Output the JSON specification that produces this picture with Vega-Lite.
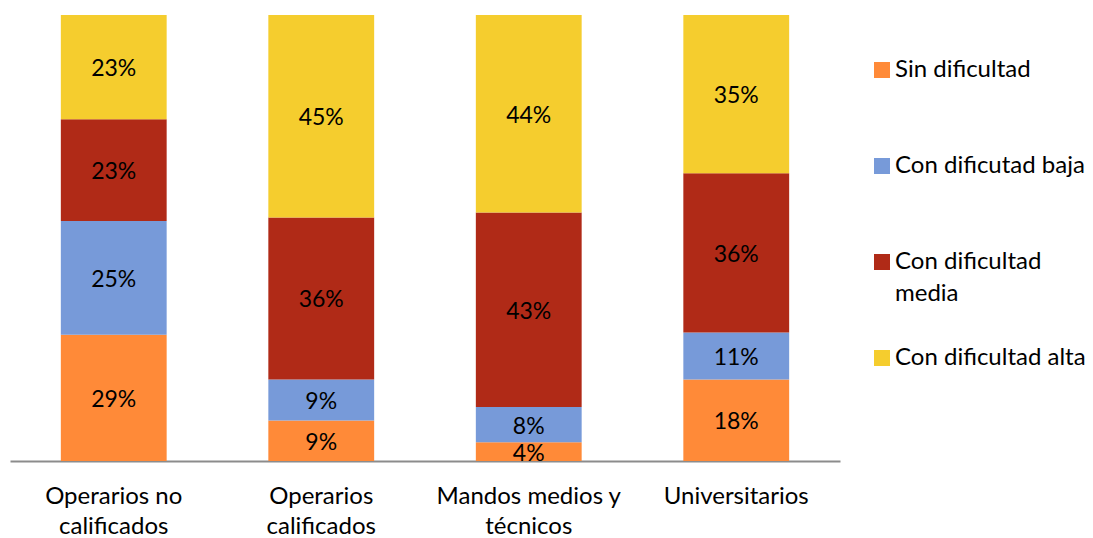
{
  "$schema": "https://vega.github.io/schema/vega-lite/v6.json",
  "width": 830,
  "height": 446,
  "autosize": {"type": "none"},
  "padding": {"left": 10, "top": 15, "right": 253, "bottom": 77},
  "background": "white",
  "config": {
    "view": {"stroke": null},
    "font": "Lato"
  },
  "data": {
    "values": [
      {"grupo": "Operarios no calificados", "nivel": "Sin dificultad", "orden": 1, "valor": 28.3, "etiqueta": "29%"},
      {"grupo": "Operarios no calificados", "nivel": "Con dificutad baja", "orden": 2, "valor": 25.5, "etiqueta": "25%"},
      {"grupo": "Operarios no calificados", "nivel": "Con dificultad media", "orden": 3, "valor": 22.8, "etiqueta": "23%"},
      {"grupo": "Operarios no calificados", "nivel": "Con dificultad alta", "orden": 4, "valor": 23.4, "etiqueta": "23%"},
      {"grupo": "Operarios calificados", "nivel": "Sin dificultad", "orden": 1, "valor": 9.1, "etiqueta": "9%"},
      {"grupo": "Operarios calificados", "nivel": "Con dificutad baja", "orden": 2, "valor": 9.2, "etiqueta": "9%"},
      {"grupo": "Operarios calificados", "nivel": "Con dificultad media", "orden": 3, "valor": 36.3, "etiqueta": "36%"},
      {"grupo": "Operarios calificados", "nivel": "Con dificultad alta", "orden": 4, "valor": 45.4, "etiqueta": "45%"},
      {"grupo": "Mandos medios y técnicos", "nivel": "Sin dificultad", "orden": 1, "valor": 4.2, "etiqueta": "4%"},
      {"grupo": "Mandos medios y técnicos", "nivel": "Con dificutad baja", "orden": 2, "valor": 7.9, "etiqueta": "8%"},
      {"grupo": "Mandos medios y técnicos", "nivel": "Con dificultad media", "orden": 3, "valor": 43.6, "etiqueta": "43%"},
      {"grupo": "Mandos medios y técnicos", "nivel": "Con dificultad alta", "orden": 4, "valor": 44.3, "etiqueta": "44%"},
      {"grupo": "Universitarios", "nivel": "Sin dificultad", "orden": 1, "valor": 18.3, "etiqueta": "18%"},
      {"grupo": "Universitarios", "nivel": "Con dificutad baja", "orden": 2, "valor": 10.5, "etiqueta": "11%"},
      {"grupo": "Universitarios", "nivel": "Con dificultad media", "orden": 3, "valor": 35.7, "etiqueta": "36%"},
      {"grupo": "Universitarios", "nivel": "Con dificultad alta", "orden": 4, "valor": 35.5, "etiqueta": "35%"}
    ]
  },
  "encoding": {
    "x": {
      "field": "grupo",
      "type": "nominal",
      "sort": null,
      "scale": {"paddingInner": 0.49, "paddingOuter": 0.245},
      "axis": {
        "title": null,
        "labelAngle": 0,
        "ticks": false,
        "domainColor": "#8C8C8C",
        "domainWidth": 2,
        "domainOpacity": 1,
        "labelFontSize": 24,
        "labelColor": "#000000",
        "labelPadding": 35,
        "labelLineHeight": 30,
        "labelLimit": 300,
        "labelBaseline": "middle",
        "labelExpr": "datum.label == 'Operarios no calificados' ? ['Operarios no', 'calificados'] : datum.label == 'Operarios calificados' ? ['Operarios', 'calificados'] : datum.label == 'Mandos medios y técnicos' ? ['Mandos medios y', 'técnicos'] : datum.label"
      }
    },
    "y": {
      "field": "valor",
      "type": "quantitative",
      "stack": "normalize",
      "axis": null
    },
    "order": {"field": "orden", "type": "quantitative"}
  },
  "layer": [
    {
      "mark": {"type": "bar"},
      "encoding": {
        "color": {
          "field": "nivel",
          "type": "nominal",
          "scale": {
            "domain": ["Sin dificultad", "Con dificutad baja", "Con dificultad media", "Con dificultad alta"],
            "range": ["#FF8A38", "#779AD9", "#B02A17", "#F5CD2E"]
          },
          "legend": {
            "title": null,
            "orient": "none",
            "legendX": 860,
            "legendY": 43,
            "padding": 0,
            "symbolType": "square",
            "symbolSize": 256,
            "symbolStrokeWidth": 0,
            "symbolOpacity": 1,
            "labelFontSize": 24,
            "labelColor": "#000000",
            "labelOffset": 1,
            "labelLimit": 300,
            "gridAlign": "all",
            "rowPadding": 40,
            "labelExpr": "datum.label == 'Con dificultad media' ? ['Con dificultad', 'media'] : datum.label",
            "encode": {
              "labels": {"update": {"lineHeight": {"value": 32}}}
            }
          }
        }
      }
    },
    {
      "mark": {"type": "text", "fontSize": 23, "color": "#000000", "baseline": "middle", "dy": 2},
      "encoding": {
        "y": {
          "field": "valor",
          "type": "quantitative",
          "stack": "normalize",
          "bandPosition": 0.5
        },
        "text": {"field": "etiqueta", "type": "nominal"}
      }
    }
  ]
}
